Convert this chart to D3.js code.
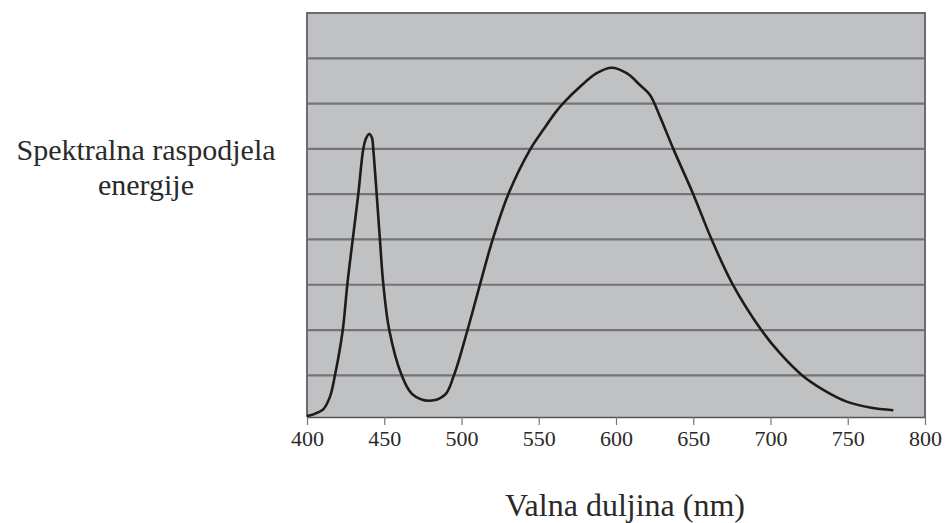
<!DOCTYPE html>
<html><head><meta charset="utf-8">
<script src="https://cdn.jsdelivr.net/npm/d3@7"></script>
<style>html,body{margin:0;padding:0;background:#fff;}</style>
</head><body>
<svg id="chart" width="945" height="523"></svg>
<script>
// Data (wavelength in nm, relative spectral energy in grid units)
const wavelengths = [400, 405, 410.5, 414.9, 418.1, 423.1, 426.1, 429.6, 433.2, 436.4, 438.3, 440.3, 442.1, 442.9, 445.1, 447.2, 449.4, 453.3, 461.3, 468.0, 479.2, 489.3, 495.1, 503.8, 512.0, 520.2, 530.3, 544.3, 552.9, 560.5, 565.9, 576.7, 587.5, 597.2, 606.9, 615.5, 622.0, 628.5, 637.1, 650.0, 661.9, 675.5, 694.3, 706.1, 720.2, 734.2, 749.3, 764.4, 779.5];
const energy      = [0.10, 0.15, 0.25, 0.53, 1.00, 1.99, 3.01, 4.00, 5.00, 5.99, 6.24, 6.33, 6.24, 5.99, 5.00, 4.00, 3.01, 1.99, 1.00, 0.59, 0.44, 0.57, 1.00, 1.99, 3.01, 4.00, 5.00, 5.98, 6.42, 6.79, 7.01, 7.37, 7.67, 7.79, 7.67, 7.41, 7.19, 6.71, 6.00, 5.00, 4.00, 3.01, 1.99, 1.49, 1.01, 0.68, 0.42, 0.29, 0.23];
const xTicks = [400, 450, 500, 550, 600, 650, 700, 750, 800];
const yGridValues = [1, 2, 3, 4, 5, 6, 7, 8];
const yLabelLines = ["Spektralna raspodjela", "energije"];
const xTitle = "Valna duljina (nm)";

const svg = d3.select("#chart");
const L = 307, R = 925, T = 13, B = 417;
const x = d3.scaleLinear().domain([400, 800]).range([L, R]);
const y = d3.scaleLinear().domain([0.08, 9]).range([B, T]);

// plot background
svg.append("rect").attr("x", L).attr("y", T).attr("width", R - L).attr("height", B - T)
  .attr("fill", "#c0c1c3");

// gridlines
svg.append("g").selectAll("line").data(yGridValues).join("line")
  .attr("x1", L).attr("x2", R)
  .attr("y1", d => y(d)).attr("y2", d => y(d))
  .attr("stroke", "#737477").attr("stroke-width", 2.2);

// border
svg.append("path")
  .attr("d", `M${L},${B}V${T}H${R}V${B}`)
  .attr("fill", "none").attr("stroke", "#6a6b6e").attr("stroke-width", 2);

// x axis
const xAxis = d3.axisBottom(x).tickValues(xTicks).tickSize(8).tickSizeOuter(0).tickPadding(5);
const gx = svg.append("g").attr("transform", `translate(0,${B})`).call(xAxis);
gx.select(".domain").attr("stroke", "#555").attr("stroke-width", 1.5);
gx.selectAll(".tick line").attr("stroke", "#777").attr("stroke-width", 1.2);
gx.selectAll(".tick text")
  .attr("font-family", "'Liberation Serif', 'Times New Roman', serif")
  .attr("font-size", 22).attr("fill", "#2a2a2a");

// curve
const line = d3.line().x((d, i) => x(wavelengths[i])).y(d => y(d)).curve(d3.curveCatmullRom.alpha(0.5));
svg.append("path").datum(energy)
  .attr("d", line)
  .attr("fill", "none").attr("stroke", "#1c1c1c").attr("stroke-width", 2.6)
  .attr("stroke-linejoin", "round");

// y label
const yl = svg.append("text")
  .attr("font-family", "'Liberation Serif', 'Times New Roman', serif")
  .attr("font-size", 30).attr("fill", "#2a2a2a").attr("text-anchor", "middle");
yl.selectAll("tspan").data(yLabelLines).join("tspan")
  .attr("x", 146).attr("y", (d, i) => 160 + i * 35).text(d => d);

// x title
svg.append("text").attr("x", 625).attr("y", 516)
  .attr("font-family", "'Liberation Serif', 'Times New Roman', serif")
  .attr("font-size", 32).attr("fill", "#2a2a2a").attr("text-anchor", "middle")
  .text(xTitle);
</script>
</body></html>
